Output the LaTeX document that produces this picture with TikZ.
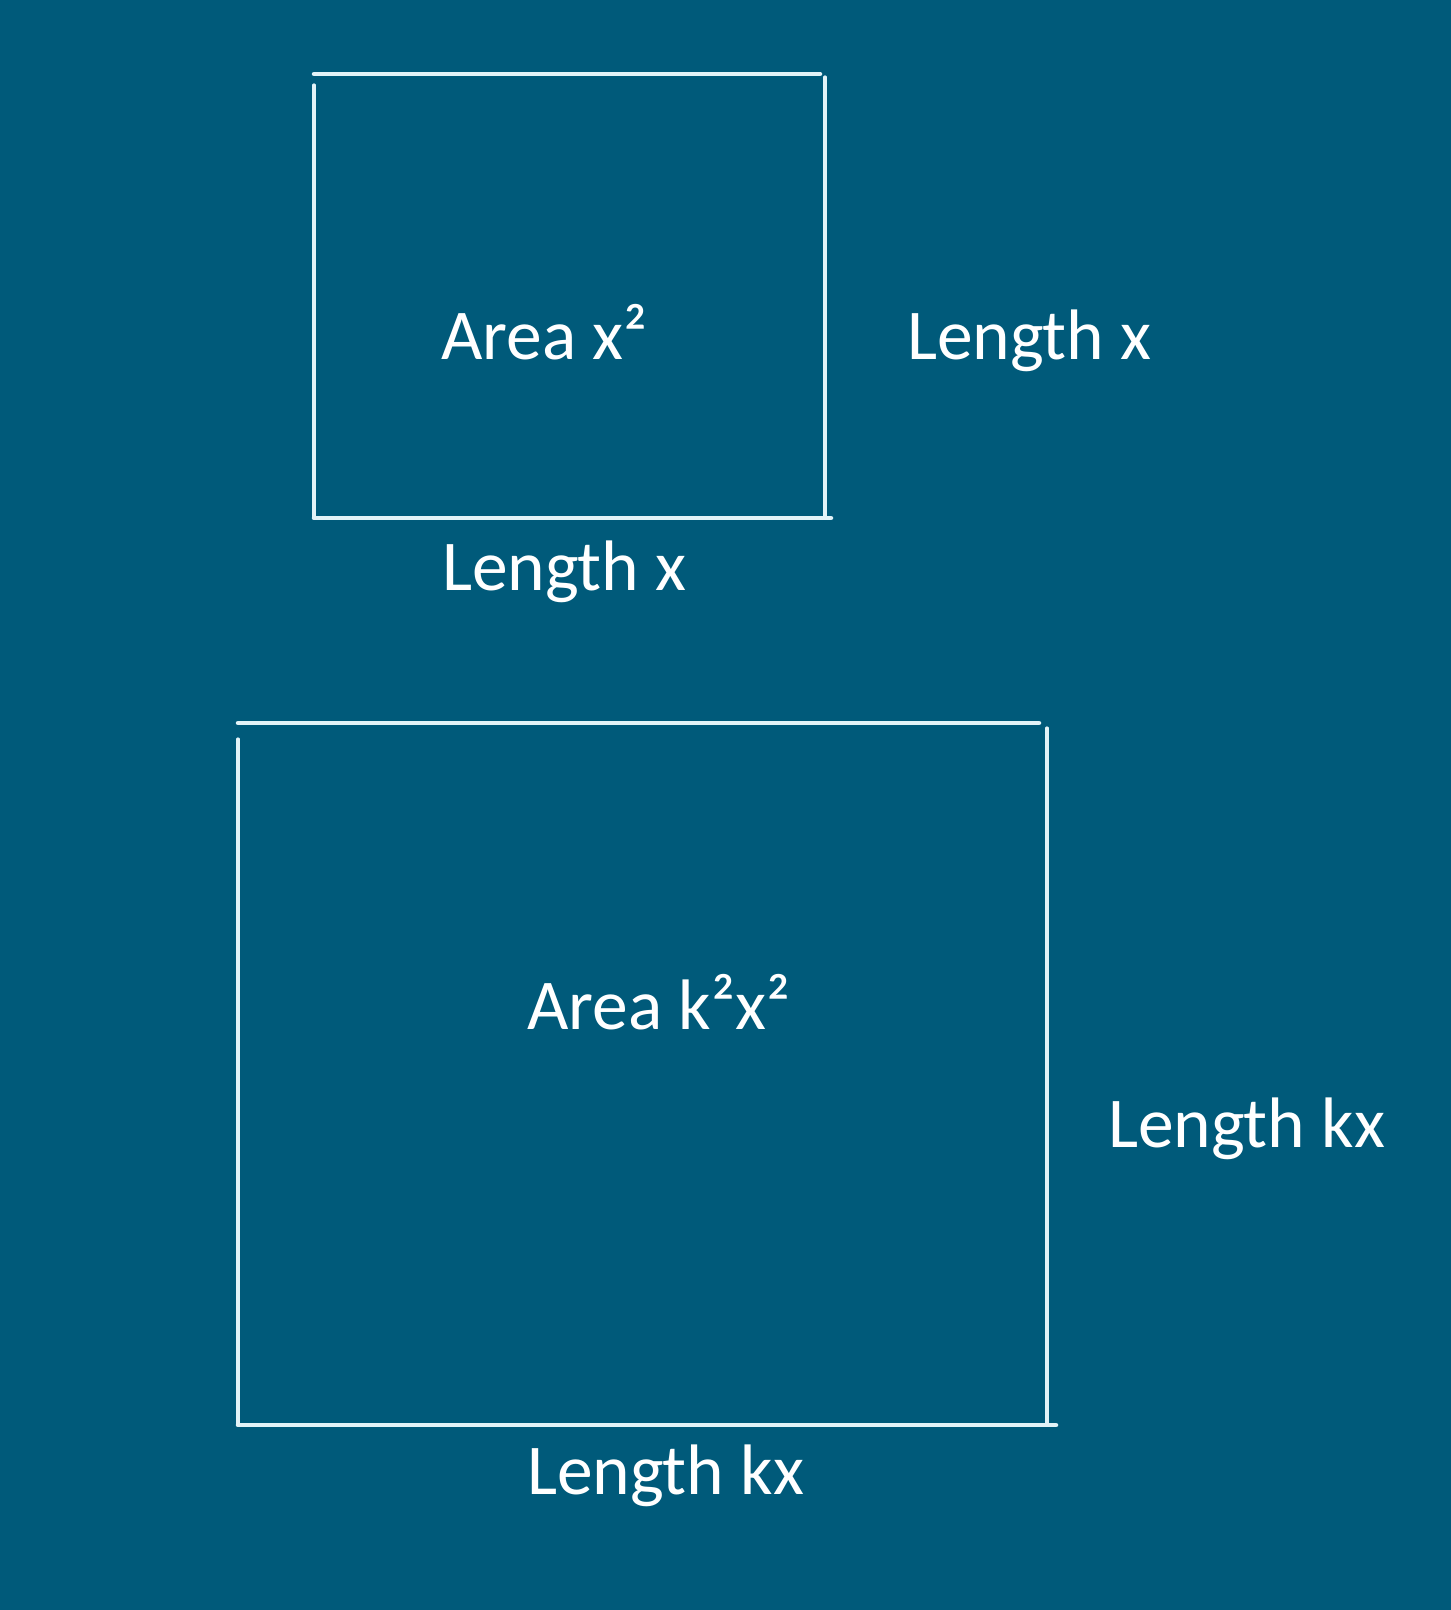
\documentclass[tikz,border=0pt]{standalone}
\usepackage{fontspec}
\setmainfont{Carlito}
\definecolor{bg}{HTML}{005A7A}
\definecolor{edge}{HTML}{E2F3F8}
\tikzset{
  hline/.style={draw=edge, line width=4.5pt, line cap=round},
  vline/.style={draw=edge, line width=3.2pt, line cap=round},
  lbl/.style={text=white, inner sep=0pt, anchor=base west, font=\fontsize{71.5}{86}\selectfont}
}
\begin{document}
\begin{tikzpicture}[x=1pt,y=-1pt]
\fill[bg] (0,0) rectangle (1451,1610);
\useasboundingbox (0,0) rectangle (1451,1610);
% small square
\draw[hline] (314,74) -- (820,74);
\draw[vline] (314,85) -- (314,518);
\draw[vline] (825,77) -- (825,518);
\draw[hline] (314,518) -- (831,518);
% big square
\draw[hline] (238,723) -- (1039,723);
\draw[vline] (238,739) -- (238,1425);
\draw[vline] (1047,728) -- (1047,1425);
\draw[hline] (238,1425) -- (1056,1425);
% labels
\node[lbl] (a1) at (441,359) {Area x²};
\node[lbl] (l1r) at (907,359) {Length x};
\node[lbl] (l1b) at (442,590) {Length x};
\node[lbl] (a2) at (527,1029) {Area k²x²};
\node[lbl] (l2r) at (1108,1147) {Length kx};
\node[lbl] (l2b) at (527,1494) {Length kx};
\end{tikzpicture}
\end{document}
